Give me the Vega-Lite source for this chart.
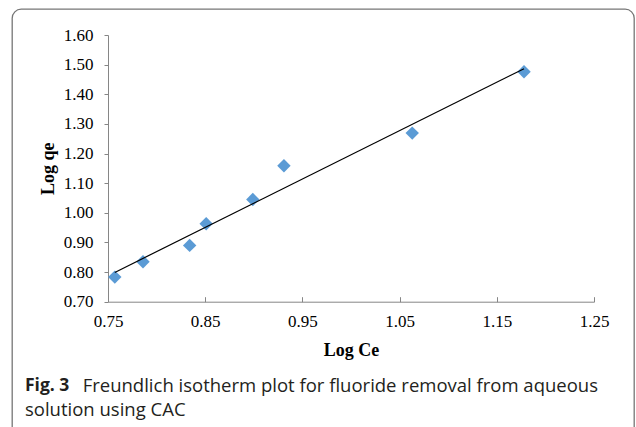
{
  "$schema": "https://vega.github.io/schema/vega-lite/v6.json",
  "width": 622,
  "height": 430,
  "autosize": "none",
  "padding": {"left": 12, "top": 9, "right": 2, "bottom": 0},
  "background": "white",
  "config": {
    "view": {"stroke": "#767676", "strokeWidth": 1.3, "cornerRadius": 9},
    "axis": {
      "grid": false,
      "domainColor": "#868686",
      "tickColor": "#868686",
      "labelFont": "Liberation Serif",
      "labelFontSize": 17,
      "labelColor": "#000000",
      "labelFlush": false,
      "titleFont": "Liberation Serif",
      "titleFontSize": 18,
      "titleFontWeight": "bold",
      "titleColor": "#000000"
    }
  },
  "title": {
    "text": "Fig. 3",
    "subtitle": ["\u200b\u00a0\u00a0\u00a0\u00a0\u00a0\u00a0\u00a0\u00a0\u00a0\u00a0\u00a0\u00a0Freundlich isotherm plot for fluoride removal from aqueous", "solution using CAC"],
    "orient": "bottom",
    "anchor": "start",
    "frame": "group",
    "offset": -62,
    "dx": 13,
    "font": "Open Sans",
    "fontSize": 17.5,
    "fontWeight": "bold",
    "lineHeight": 18,
    "color": "#231f20",
    "subtitleFont": "Open Sans",
    "subtitleFontSize": 18.5,
    "subtitleLineHeight": 24,
    "subtitlePadding": -18,
    "subtitleColor": "#231f20"
  },
  "data": {
    "values": [
      {"logCe": 0.757, "logqe": 0.783},
      {"logCe": 0.786, "logqe": 0.835},
      {"logCe": 0.834, "logqe": 0.890},
      {"logCe": 0.851, "logqe": 0.963},
      {"logCe": 0.899, "logqe": 1.045},
      {"logCe": 0.931, "logqe": 1.159},
      {"logCe": 1.063, "logqe": 1.269},
      {"logCe": 1.178, "logqe": 1.476}
    ]
  },
  "encoding": {
    "x": {
      "field": "logCe",
      "type": "quantitative",
      "scale": {"domain": [0.75, 1.25], "range": [96, 582], "nice": false, "zero": false},
      "axis": {
        "title": "Log Ce",
        "values": [0.75, 0.85, 0.95, 1.05, 1.15, 1.25],
        "format": ".2f",
        "offset": -137.3,
        "tickSize": -5,
        "labelPadding": 17,
        "titlePadding": 12
      }
    },
    "y": {
      "field": "logqe",
      "type": "quantitative",
      "scale": {"domain": [0.7, 1.6], "range": [292.7, 26], "nice": false, "zero": false},
      "axis": {
        "title": "Log qe",
        "values": [0.7, 0.8, 0.9, 1.0, 1.1, 1.2, 1.3, 1.4, 1.5, 1.6],
        "format": ".2f",
        "offset": -96,
        "tickSize": 4,
        "labelPadding": 11,
        "titlePadding": 6
      }
    }
  },
  "layer": [
    {
      "mark": {"type": "point", "shape": "diamond", "filled": true, "opacity": 1, "color": "#5b9bd5", "size": 180}
    },
    {
      "transform": [{"regression": "logqe", "on": "logCe"}],
      "mark": {"type": "line", "color": "#000000", "strokeWidth": 1.2}
    }
  ]
}
